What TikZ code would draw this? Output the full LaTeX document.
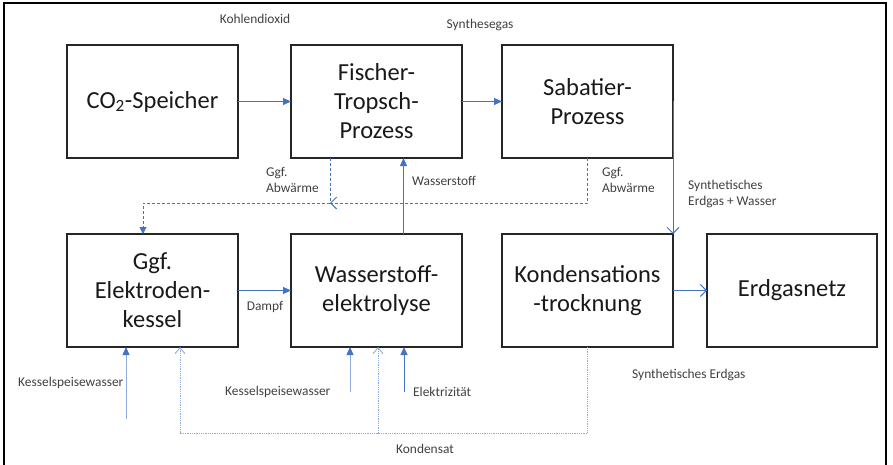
\documentclass[tikz,border=0pt]{standalone}
\usepackage{fontspec}
\setmainfont{Carlito}
\usetikzlibrary{arrows.meta}
\definecolor{ablue}{HTML}{4472C4}
\definecolor{lblue}{HTML}{8FAADC}
\definecolor{tgray}{HTML}{404040}
\begin{document}
\begin{tikzpicture}[x=1pt,y=-1pt,
  box/.style={draw=black!85, line width=1.2pt, minimum width=171pt, minimum height=113pt,
    align=center, font=\fontsize{24.5}{29}\selectfont, inner sep=0pt, outer sep=0pt, anchor=north west, text=black!90},
  lbl/.style={font=\fontsize{13.4}{16}\selectfont, text=tgray, inner sep=0pt, align=left},
  flow/.style={draw=ablue, line width=1pt, -{Triangle[length=8pt,width=7pt]}},
  thinflow/.style={draw=ablue!60, line width=0.8pt, -{Triangle[length=8pt,width=7pt,color=ablue,fill=ablue]}},
  openflow/.style={draw=ablue, line width=1pt, -{Straight Barb[length=6pt,width=12pt]}},
  dsh/.style={draw=ablue, line width=1pt, dash pattern=on 3pt off 2pt},
  dotl/.style={draw=lblue, line width=0.9pt, dash pattern=on 1pt off 0.8pt},
]
\useasboundingbox (0,0) rectangle (893,464);
\begin{scope}
\clip (0,0) rectangle (893,464);
\draw[line width=2.5pt, black] (4,3) rectangle (886,500);
\end{scope}

% boxes
\node[box] (co2) at (67,45) {CO\textsubscript{2}-Speicher};
\node[box] (ft) at (291,45) {Fischer-\\Tropsch-\\Prozess};
\node[box] (sab) at (502,45) {Sabatier-\\Prozess};
\node[box] (kessel) at (67,234) {Ggf.\\Elektroden-\\kessel};
\node[box] (elyse) at (291,234) {Wasserstoff-\\elektrolyse};
\node[box] (kond) at (502,234) {Kondensations\\-trocknung};
\node[box, minimum width=170pt] (netz) at (707,234) {Erdgasnetz};

% coordinates
\coordinate (j1) at (330,203);
\coordinate (j2) at (378,433);
\coordinate (k1) at (126,419);
\coordinate (k2) at (350,392);
\coordinate (e1) at (404,392);

% main flows
\draw[flow] (co2.east) -- (ft.west);
\draw[flow] (ft.east) -- (sab.west);
\draw[openflow] ([yshift=1pt]sab.east) -- (kond.north east);
\draw[flow] ([xshift=27pt]elyse.north) -- ([xshift=27pt]ft.south);
\draw[flow] (kessel.east) -- (elyse.west);
\draw[openflow] (kond.east) -- (netz.west);

% waste heat (dashed)
\draw[dsh, -{Straight Barb[length=6pt,width=12pt]}] (sab.south) |- (j1);
\draw[dsh, -{Triangle[length=7pt,width=7pt]}] ([xshift=-46.5pt]ft.south) -- (j1) -| ([xshift=-9.5pt]kessel.north);

% condensate (dotted)
\draw[dotl, -{Straight Barb[length=6pt,width=10pt]}] (kond.south) |- (j2) -| ([xshift=27.5pt]kessel.south);
\draw[dotl, -{Straight Barb[length=6pt,width=10pt]}] (j2) -- ([xshift=1.5pt]elyse.south);

% feeds
\draw[thinflow] (k1) -- ([xshift=-26.5pt]kessel.south);
\draw[thinflow] (k2) -- ([xshift=-26.5pt]elyse.south);
\draw[flow] (e1) -- ([xshift=27.5pt]elyse.south);

% labels
\node[lbl] (lco2) at (255,19) {Kohlendioxid};
\node[lbl] (lsyn) at (480,25) {Synthesegas};
\node[lbl, anchor=west] (lab1) at (266,180) {Ggf.\\Abwärme};
\node[lbl, anchor=west] (lh2) at (412,181) {Wasserstoff};
\node[lbl, anchor=west] (lab2) at (602,180) {Ggf.\\Abwärme};
\node[lbl, anchor=west] (lsew) at (688,194) {Synthetisches\\Erdgas + Wasser};
\node[lbl] (ldampf) at (265,307) {Dampf};
\node[lbl, anchor=west] (lksw1) at (18,383) {Kesselspeisewasser};
\node[lbl, anchor=west] (lksw2) at (225,392) {Kesselspeisewasser};
\node[lbl, anchor=west] (lel) at (413,392) {Elektrizität};
\node[lbl, anchor=west] (lse) at (632,375) {Synthetisches Erdgas};
\node[lbl] (lkond) at (425,449) {Kondensat};
\end{tikzpicture}
\end{document}
